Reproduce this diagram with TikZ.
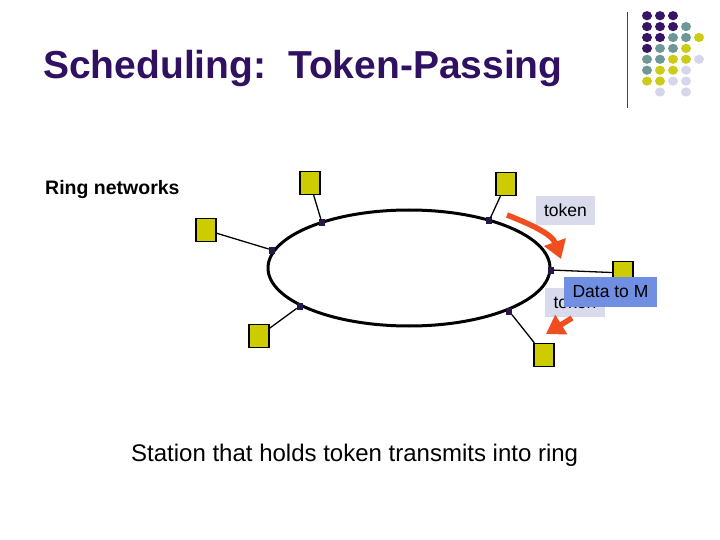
\documentclass[tikz,border=0pt]{standalone}
\usepackage{fontspec}
\setmainfont{Liberation Sans}
\usepackage{xcolor}
\definecolor{slpurple}{RGB}{55,20,100}
\definecolor{slteal}{RGB}{110,152,152}
\definecolor{slyellow}{RGB}{204,204,24}
\definecolor{sllavender}{RGB}{214,214,234}
\definecolor{titlepurple}{RGB}{48,16,96}
\definecolor{stnyellow}{RGB}{204,204,0}
\definecolor{tapdark}{RGB}{40,24,72}
\definecolor{tokred}{RGB}{240,78,30}
\definecolor{tokbox}{RGB}{217,218,236}
\definecolor{databox}{RGB}{112,142,226}
\usetikzlibrary{arrows.meta, shapes.geometric}

\begin{document}
\begin{tikzpicture}[x=1pt, y=-1pt,
  station/.style={rectangle, draw=black, line width=1.5pt, fill=stnyellow,
                  minimum width=20pt, minimum height=23pt, inner sep=0pt},
  tap/.style={rectangle, fill=tapdark, minimum width=6pt, minimum height=7pt, inner sep=0pt},
  wire/.style={line width=1.3pt},
  lbl/.style={font=\fontsize{17.5}{20}\selectfont, inner sep=0pt, minimum height=29pt},
  tokarr/.style={-{Triangle[length=18pt,width=22pt]}, line width=5.5pt, draw=tokred}
]
\useasboundingbox (0,0) rectangle (720,540);

% Corner decoration
\draw[line width=1pt, black!75] (627,12) -- (627,108);
\foreach \c/\r/\col in {0/0/slpurple, 1/0/slpurple, 2/0/slpurple,
    0/1/slpurple, 1/1/slpurple, 2/1/slpurple, 3/1/slteal,
    0/2/slpurple, 1/2/slpurple, 2/2/slteal, 3/2/slteal, 4/2/slyellow,
    0/3/slpurple, 1/3/slteal, 2/3/slteal, 3/3/slyellow,
    0/4/slteal, 1/4/slteal, 2/4/slyellow, 3/4/slyellow, 4/4/sllavender,
    0/5/slteal, 1/5/slyellow, 2/5/slyellow, 3/5/sllavender,
    0/6/slyellow, 1/6/slyellow, 2/6/sllavender, 3/6/sllavender,
    1/7/sllavender, 3/7/sllavender}
  \fill[\col] (647+13*\c, 15.7+10.9*\r) ellipse (5 and 4.6);

% Titles
\node[anchor=base west, inner sep=0pt, text=titlepurple,
      font=\bfseries\fontsize{39}{44}\selectfont] (title) at (43,79) {Scheduling:\ \ Token-Passing};
\node[anchor=base west, inner sep=0pt, font=\bfseries\fontsize{19.5}{22}\selectfont] (ringnet) at (45,195) {Ring networks};

% Ring
\node[draw, ellipse, line width=3pt, minimum width=282pt, minimum height=116pt, inner sep=0pt] (ring) at (409,268) {};

% Stations and taps
\node[station] (s1) at (310,183) {};
\node[station] (s2) at (206,230) {};
\node[station] (s3) at (259,336) {};
\node[station] (s4) at (506,184) {};
\node[station] (s5) at (623,273) {};
\node[station] (s6) at (544,355) {};

\node[tap] (d1) at (322,223) {};
\node[tap] (d2) at (272,250) {};
\node[tap] (d3) at (300,306) {};
\node[tap] (d4) at (489,221) {};
\node[tap] (d5) at (551,270) {};
\node[tap] (d6) at (509,311) {};

\draw[wire] (s1) -- (d1);
\draw[wire] (s2) -- (d2);
\draw[wire] (s3) -- (d3);
\draw[wire] (s4) -- (d4);
\draw[wire] (s5) -- (d5);
\draw[wire] (s6) -- (d6);

% Token labels
\node[lbl, fill=tokbox, minimum width=59pt] (tok1) at (565.5,210.5) {token};
\node[lbl, fill=tokbox, minimum width=60pt] (tok2) at (575,302.5) {token};
\node[lbl, fill=databox, minimum width=93pt, minimum height=30pt] (data) at (610.5,292) {Data to M};

% Token arrows
\coordinate (a1s) at (507,215);
\coordinate (a1e) at (561,259);
\coordinate (a2s) at (572,318);
\coordinate (a2e) at (546,334);
\draw[tokarr] (a1s) .. controls (530,224) and (552,234) .. (a1e);
\draw[tokarr] (a2s) -- (a2e);

% Caption
\node[anchor=base west, inner sep=0pt, font=\fontsize{24}{28}\selectfont] (caption) at (131,461) {Station that holds token transmits into ring};
\end{tikzpicture}
\end{document}
